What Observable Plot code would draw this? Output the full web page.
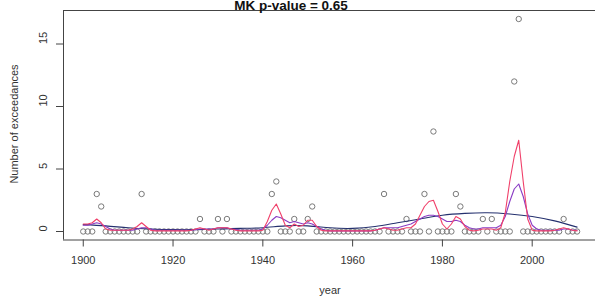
<!DOCTYPE html>
<html><head><meta charset="utf-8">
<script src="https://cdn.jsdelivr.net/npm/d3@7"></script>
<script src="https://cdn.jsdelivr.net/npm/@observablehq/plot@0.6"></script>
<style>body{margin:0;background:#fff;} svg{display:block;}</style>
</head><body><div id="chart"></div>
<script>
const firstYear = 1900;
// Number of exceedances per year, 1900..2010
const counts = [
  0,0,0,3,2,0,0,0,0,0,
  0,0,0,3,0,0,0,0,0,0,
  0,0,0,0,0,0,1,0,0,0,
  1,0,1,0,0,0,0,0,0,0,
  0,0,3,4,0,0,0,1,0,0,
  1,2,0,0,0,0,0,0,0,0,
  0,0,0,0,0,0,0,3,0,0,
  0,0,1,0,0,0,3,0,8,0,
  0,0,0,3,2,0,0,0,0,1,
  0,1,0,0,0,0,12,17,0,0,
  0,0,0,0,0,0,0,1,0,0,
  0
];
// red (local, least smoothed) curve
const redValues = [
  0.6,0.6,0.7,1.0,0.7,0.2,0.1,0.1,0.1,0.1,
  0.1,0.2,0.4,0.7,0.4,0.1,0.05,0.05,0.05,0.05,
  0.05,0.05,0.05,0.05,0.1,0.2,0.3,0.2,0.1,0.2,
  0.3,0.3,0.3,0.2,0.1,0.05,0.05,0.05,0.05,0.05,
  0.1,0.8,1.7,2.2,1.4,0.5,0.3,0.6,0.4,0.5,
  0.9,0.9,0.4,0.1,0.05,0.05,0.05,0.05,0.05,0.05,
  0.05,0.05,0.05,0.05,0.05,0.1,0.2,0.3,0.2,0.1,
  0.1,0.2,0.3,0.3,0.6,1.3,2.0,2.4,2.5,1.6,
  0.6,0.2,0.6,1.2,1.0,0.4,0.1,0.05,0.1,0.2,
  0.2,0.2,0.1,0.3,1.5,4.0,6.0,7.3,4.0,1.0,
  0.1,0.05,0.05,0.05,0.05,0.1,0.2,0.3,0.2,0.1,
  0.05
];
// purple (medium smoothed) curve
const purpleValues = [
  0.5,0.5,0.6,0.7,0.6,0.4,0.2,0.1,0.1,0.1,
  0.1,0.1,0.2,0.3,0.3,0.2,0.1,0.1,0.1,0.1,
  0.1,0.1,0.1,0.1,0.1,0.15,0.2,0.2,0.2,0.2,
  0.3,0.3,0.3,0.2,0.15,0.1,0.1,0.1,0.1,0.1,
  0.2,0.5,0.9,1.2,1.1,0.9,0.7,0.8,0.7,0.6,
  0.7,0.6,0.4,0.2,0.1,0.05,0.05,0.05,0.05,0.05,
  0.05,0.05,0.05,0.05,0.05,0.1,0.2,0.3,0.3,0.3,
  0.3,0.4,0.5,0.6,0.8,1.0,1.2,1.3,1.3,1.2,
  1.0,0.8,0.8,0.9,0.8,0.5,0.3,0.2,0.2,0.3,
  0.3,0.3,0.3,0.5,1.2,2.4,3.4,3.8,2.8,1.4,
  0.5,0.2,0.1,0.1,0.1,0.1,0.1,0.2,0.2,0.1,
  0.1
];
// navy (strongly smoothed) curve, read at 5-year knots
const navyYears  = [1900,1905,1910,1915,1920,1925,1930,1935,1940,1945,1950,1955,1960,1965,1970,1975,1980,1985,1990,1995,2000,2005,2010];
const navyValues = [0.55,0.45,0.3,0.2,0.15,0.15,0.2,0.25,0.3,0.45,0.45,0.3,0.25,0.4,0.7,1.0,1.3,1.45,1.5,1.4,1.2,0.85,0.35];

const xTicks = [1900,1920,1940,1960,1980,2000];
const yTicks = [0,5,10,15];
const xDomain = [1895.6, 2014.1];
const yDomain = [-0.68, 17.68];
const titleText = "MK p-value = 0.65";
const xLabel = "year";
const yLabel = "Number of exceedances";

const years = counts.map((_, i) => firstYear + i);
const pts = years.map((year, i) => ({year, v: counts[i]}));
const red = years.map((year, i) => ({year, v: redValues[i]}));
const purple = years.map((year, i) => ({year, v: purpleValues[i]}));
const navy = navyYears.map((year, i) => ({year, v: navyValues[i]}));

const axisColor = "#444";
const chart = Plot.plot({
  width: 595, height: 302,
  marginLeft: 63, marginRight: 0, marginTop: 10, marginBottom: 62.5,
  style: {fontFamily: "'Liberation Sans', Arial, sans-serif", fontSize: "11px", background: "white", color: "#333", overflow: "visible"},
  x: {domain: xDomain, axis: null},
  y: {domain: yDomain, axis: null},
  marks: [
    Plot.dot(pts, {x: "year", y: "v", r: 2.7, stroke: "#7a7a7a", strokeWidth: 1, fill: "none"}),
    Plot.line(navy, {x: "year", y: "v", stroke: "#24306e", strokeWidth: 1.1, curve: "natural"}),
    Plot.line(purple, {x: "year", y: "v", stroke: "#8a3cc4", strokeWidth: 1.1}),
    Plot.line(red, {x: "year", y: "v", stroke: "#f0406a", strokeWidth: 1.1}),
    Plot.ruleY([yDomain[0]], {stroke: axisColor}),
    Plot.ruleY([yDomain[1]], {stroke: axisColor}),
    Plot.ruleX([xDomain[0]], {stroke: axisColor}),
    Plot.axisX(xTicks, {anchor: "bottom", tickSize: 7, tickFormat: () => "", label: null, stroke: axisColor}),
    Plot.axisY(yTicks, {anchor: "left", tickSize: 7, tickFormat: () => "", label: null, stroke: axisColor}),
    Plot.text(xTicks, {x: d => d, frameAnchor: "bottom", dy: 24, text: d => String(d), fill: "#333", fontSize: 11}),
    Plot.text(yTicks, {y: d => d, frameAnchor: "left", dx: -20, rotate: -90, text: d => String(d), fill: "#333", fontSize: 11})
  ]
});

const svg = d3.select(chart);
svg.append("text").text(titleText)
  .attr("x", 291).attr("y", 10).attr("text-anchor", "middle")
  .attr("font-weight", "bold").attr("font-size", 13.5).attr("fill", "#111")
  .attr("font-family", "'Liberation Sans', Arial, sans-serif");
svg.append("text").text(xLabel)
  .attr("x", 330).attr("y", 294).attr("text-anchor", "middle")
  .attr("font-size", 11).attr("fill", "#333")
  .attr("font-family", "'Liberation Sans', Arial, sans-serif");
svg.append("text").text(yLabel)
  .attr("transform", "translate(18,124) rotate(-90)").attr("text-anchor", "middle")
  .attr("font-size", 11).attr("fill", "#333")
  .attr("font-family", "'Liberation Sans', Arial, sans-serif");

document.getElementById("chart").append(chart);
</script>
</body></html>
